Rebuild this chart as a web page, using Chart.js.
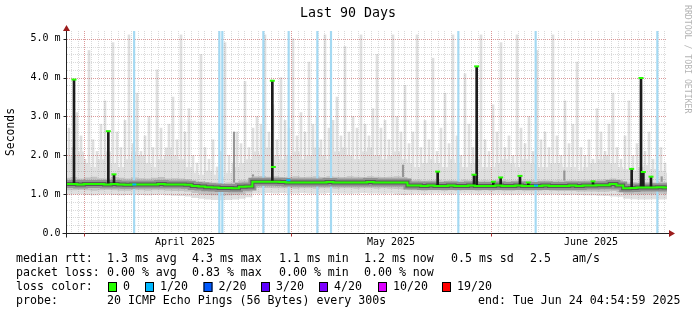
<!DOCTYPE html>
<html><head><meta charset="utf-8">
<script src="https://cdn.jsdelivr.net/npm/chart.js@4.4.0/dist/chart.umd.min.js"></script>
<style>html,body{margin:0;padding:0;background:#fff;}canvas{display:block;}</style>
</head><body>
<canvas id="c" width="697" height="315"></canvas>
<script>
// ---------- data (seconds, in ms units "m") ----------
const xMaxDays = 90;
const yMax = 5.2;
const yTickValues = [0, 1, 2, 3, 4, 5];
const yTickLabels = ['0.0', '1.0 m', '2.0 m', '3.0 m', '4.0 m', '5.0 m'];
const monthLabels = ['April 2025', 'May 2025', 'June 2025'];
const monthLabelDays = [17.7, 48.6, 78.6];
const monthLineDays = [2.6, 33.6, 63.65];

// one value per day
const medianRtt = [1.26,1.26,1.25,1.26,1.26,1.26,1.25,1.26,1.25,1.24,1.25,1.25,1.25,1.25,1.26,1.25,1.25,1.25,1.24,
  1.21,1.20,1.18,1.17,1.16,1.16,1.15,1.19,1.20,
  1.32,1.32,1.32,1.32,1.31,1.30,1.30,1.30,1.30,1.30,1.30,1.31,1.30,1.30,1.30,1.30,1.30,1.31,1.30,1.30,1.30,1.30,1.30,
  1.22,1.22,1.21,1.22,1.21,1.21,1.22,1.21,1.21,1.22,1.21,1.21,1.21,1.22,1.21,1.21,1.22,1.21,1.21,1.21,
  1.22,1.21,1.21,1.21,1.22,1.21,1.22,1.22,1.23,1.23,1.26,1.22,
  1.15,1.16,1.17,1.17,1.17,1.18,1.17];
const smokeLow = [0.98,0.99,1.00,0.98,0.97,0.99,1.00,0.98,0.97,0.98,0.99,0.98,0.97,0.98,0.99,0.97,0.96,0.95,0.94,
  0.90,0.88,0.86,0.85,0.84,0.85,0.86,0.88,0.92,
  1.02,1.02,1.03,1.02,1.03,1.02,1.02,1.03,1.02,1.01,1.02,1.03,1.02,1.02,1.01,1.02,1.03,1.02,1.02,1.01,1.02,0.99,0.98,
  1.00,1.01,1.00,1.01,1.02,1.01,1.00,1.01,1.02,1.01,1.00,1.01,1.00,1.01,1.00,0.99,1.00,1.01,1.00,1.00,
  0.99,1.00,0.99,0.98,0.99,0.98,0.97,0.97,0.96,0.95,0.94,0.93,
  0.88,0.87,0.86,0.86,0.87,0.86,0.87];
const smokeMidLow = [1.10,1.10,1.11,1.10,1.09,1.10,1.11,1.10,1.09,1.09,1.10,1.10,1.09,1.10,1.10,1.09,1.08,1.08,1.07,
  1.03,1.00,0.98,0.97,0.96,0.97,0.98,1.00,1.04,
  1.16,1.16,1.16,1.15,1.15,1.15,1.14,1.15,1.15,1.14,1.15,1.15,1.14,1.15,1.15,1.14,1.15,1.15,1.14,1.15,1.14,1.13,1.12,
  1.10,1.10,1.09,1.10,1.10,1.09,1.10,1.09,1.10,1.10,1.09,1.10,1.09,1.10,1.09,1.09,1.10,1.09,1.09,1.09,
  1.10,1.09,1.08,1.08,1.08,1.07,1.07,1.07,1.06,1.06,1.08,1.05,
  1.00,1.00,0.99,1.00,1.00,1.01,1.00];
const smokeMidHigh = [1.42,1.44,1.40,1.43,1.45,1.41,1.40,1.44,1.42,1.40,1.43,1.41,1.40,1.42,1.44,1.40,1.41,1.40,1.39,
  1.35,1.33,1.31,1.30,1.29,1.30,1.30,1.36,1.36,
  1.46,1.47,1.45,1.46,1.44,1.45,1.46,1.44,1.45,1.46,1.44,1.46,1.45,1.44,1.46,1.45,1.44,1.46,1.45,1.44,1.45,1.46,1.44,
  1.36,1.37,1.35,1.36,1.37,1.35,1.36,1.35,1.37,1.36,1.35,1.36,1.35,1.37,1.36,1.35,1.36,1.35,1.36,1.35,
  1.36,1.35,1.36,1.35,1.36,1.35,1.36,1.36,1.37,1.38,1.40,1.37,
  1.30,1.31,1.30,1.31,1.30,1.32,1.31];
const smokeHigh = [1.9,2.0,2.1,1.8,1.7,1.9,2.1,1.8,1.7,1.9,2.1,2.0,1.8,1.7,1.9,2.2,2.0,1.9,1.7,
  1.55,1.5,1.6,1.5,1.45,1.55,1.7,1.8,1.9,
  2.1,2.0,2.2,2.0,1.9,2.0,2.1,1.9,2.0,2.2,2.0,1.9,2.1,2.2,2.0,1.9,2.1,2.2,2.0,1.9,2.0,2.1,1.9,
  1.8,1.7,1.8,1.9,1.8,1.7,1.9,1.8,1.7,1.8,1.9,1.7,1.7,1.8,1.9,1.8,1.7,1.9,1.8,1.7,
  1.7,1.8,1.8,1.7,1.7,1.6,1.7,1.8,1.9,2.0,1.8,1.7,
  1.65,1.6,1.7,1.75,1.65,1.6,1.55];
// thin smoke streaks, 150 columns over the 90 days
const streakTop = [2.7,2.2,3.1,2.5,1.9,4.7,2.4,2.1,2.8,3.4,2.0,4.9,2.6,2.2,2.9,5.1,2.3,3.6,2.1,2.5,3.0,2.2,4.2,2.7,2.0,2.8,3.5,2.4,5.1,2.6,3.2,
  2.0,1.8,4.6,2.2,1.9,2.4,1.7,2.1,4.9,2.0,1.8,2.6,2.3,3.9,2.2,2.7,
  3.0,2.8,5.1,2.6,3.3,2.4,4.0,2.9,2.7,5.0,2.5,3.1,2.6,4.4,2.8,3.0,2.4,5.1,2.7,2.9,3.5,2.5,4.8,2.6,3.0,2.7,5.1,2.8,2.5,3.2,4.6,2.7,2.9,2.4,5.1,3.0,2.6,3.8,
  2.3,2.6,5.1,2.2,2.9,2.4,4.5,2.1,2.7,3.6,2.3,5.1,2.5,2.0,4.1,2.8,2.2,2.6,5.1,2.4,2.1,3.3,2.6,4.9,2.2,2.5,2.0,5.1,2.7,2.3,3.0,2.1,4.7,2.4,2.6,2.2,5.1,2.5,2.0,3.4,2.3,2.8,4.4,2.2,
  2.0,2.4,1.9,3.2,2.6,2.1,2.8,3.6,2.2,1.9,2.5,3.4,2.0,2.3,3.8,2.1,2.6,1.9,3.0,2.2,1.8];
const streakBase = 1.2;
const darkStreakDays = [25.05, 27.9, 50.4, 74.6, 89.2];
const darkStreakTops = [2.6, 1.5, 1.75, 1.6, 1.45];
const spikeDays = [1.05, 6.2, 7.05, 30.8, 55.6, 61.05, 61.45, 63.95, 65.05, 67.95, 69.2, 78.9, 84.7, 86.1, 86.45, 87.6];
const spikeTops = [3.95, 2.62, 1.51, 3.92, 1.58, 1.50, 4.29, 1.32, 1.43, 1.47, 1.30, 1.33, 1.65, 3.99, 1.57, 1.45];
const extraTipDays = [30.95];
const extraTipVals = [1.70];
const lossTipDays = [10.1, 33.2, 70.35];
const lossTipVals = [1.25, 1.36, 1.22];
const lossDays = [10.07, 22.85, 23.3, 29.45, 33.25, 37.55, 39.6, 58.7, 70.3, 88.55];

const rttLegend = ['median rtt:', '1.3 ms avg', '4.3 ms max', '1.1 ms min', '1.2 ms now', '0.5 ms sd', '2.5', 'am/s'];
const lossLegend = ['packet loss:', '0.00 % avg', '0.83 % max', '0.00 % min', '0.00 % now'];
const lossColorNames = ['0', '1/20', '2/20', '3/20', '4/20', '10/20', '19/20'];
const lossColorValues = ['#26ff00', '#00b8ff', '#0059ff', '#5e00ff', '#7e00ff', '#dd00ff', '#ff0000'];
const probeText = '20 ICMP Echo Pings (56 Bytes) every 300s';
const endText = 'end: Tue Jun 24 04:54:59 2025';
const titleText = 'Last 90 Days';
const yAxisTitle = 'Seconds';
const watermark = 'RRDTOOL / TOBI OETIKER';

// ---------- build ----------
const dayX = i => i * xMaxDays / (medianRtt.length - 1);
const pts = arr => arr.map((v, i) => ({x: dayX(i), y: v}));
const streakX = j => (j + 0.5) * xMaxDays / streakTop.length;
const MONO = '"DejaVu Sans Mono", monospace';
const lineDs = (data, extra) => Object.assign({type: 'line', data, pointRadius: 0, borderWidth: 0,
  borderColor: 'rgba(0,0,0,0)', fill: false, stepped: 'middle'}, extra);

const datasets = [
  lineDs(pts(smokeLow), {}),
  lineDs(pts(smokeHigh), {fill: '-1', backgroundColor: '#e0e0e0'}),
  {type: 'bar', data: streakTop.map((v, j) => ({x: streakX(j), y: [streakBase, v]})),
    backgroundColor: '#dfdfdf', barThickness: 2, grouped: false},
  {type: 'bar', data: darkStreakDays.map((d, k) => ({x: d, y: [streakBase, darkStreakTops[k]]})),
    backgroundColor: '#969696', barThickness: 1.5, grouped: false},
  lineDs(pts(smokeMidLow), {}),
  lineDs(pts(smokeMidHigh), {fill: '-1', backgroundColor: '#c2c2c2'}),
  {type: 'bar', data: lossDays.map(d => ({x: d, y: [0, yMax]})),
    backgroundColor: '#a4d9f2', barThickness: 1.5, grouped: false},
  lineDs(pts(medianRtt), {borderWidth: 8, borderColor: '#929292'}),
  lineDs(pts(medianRtt), {borderWidth: 4, borderColor: '#585858'}),
  {type: 'bar', data: spikeDays.map((d, k) => ({x: d, y: [medianRtt[Math.floor(d)], spikeTops[k]]})),
    backgroundColor: '#1c1c1c', barThickness: 2, grouped: false},
  lineDs(pts(medianRtt), {borderWidth: 2, borderColor: '#26ff00'}),
  {type: 'line', showLine: false, data: spikeDays.map((d, k) => ({x: d, y: spikeTops[k]}))
      .concat(extraTipDays.map((d, k) => ({x: d, y: extraTipVals[k]}))),
    pointStyle: 'line', pointRadius: 2.5, pointBorderWidth: 2, pointBorderColor: '#26ff00', borderColor: '#26ff00'},
  {type: 'line', showLine: false, data: lossTipDays.map((d, k) => ({x: d, y: lossTipVals[k]})),
    pointStyle: 'line', pointRadius: 2, pointBorderWidth: 2, pointBorderColor: '#00b8ff', borderColor: '#00b8ff'}
];
datasets.forEach((d, i) => { d.order = 100 - i; });
const GRID_BEFORE = 6;

function drawGrid(chart) {
  const {ctx, chartArea: a, scales: {x, y}} = chart;
  ctx.save();
  ctx.lineWidth = 1;
  ctx.setLineDash([1, 1]);
  ctx.strokeStyle = 'rgba(140,140,140,0.32)';
  ctx.beginPath();
  for (let k = 1; k * 0.2 < yMax; k++) {
    if (k % 5 === 0) continue;
    const py = Math.round(y.getPixelForValue(k * 0.2)) + 0.5;
    ctx.moveTo(a.left, py); ctx.lineTo(a.right, py);
  }
  for (let d = monthLineDays[0] - 2; d < xMaxDays; d += 1) {
    if (monthLineDays.some(m => Math.abs(m - d) < 0.2)) continue;
    const px = Math.round(x.getPixelForValue(d)) + 0.5;
    ctx.moveTo(px, a.top); ctx.lineTo(px, a.bottom);
  }
  ctx.stroke();
  ctx.strokeStyle = 'rgba(190,70,70,0.55)';
  ctx.beginPath();
  yTickValues.forEach(v => {
    if (v === 0) return;
    const py = Math.round(y.getPixelForValue(v)) + 0.5;
    ctx.moveTo(a.left, py); ctx.lineTo(a.right, py);
  });
  monthLineDays.forEach(d => {
    const px = Math.round(x.getPixelForValue(d)) + 0.5;
    ctx.moveTo(px, a.top); ctx.lineTo(px, a.bottom);
  });
  ctx.stroke();
  ctx.restore();
}

function text(ctx, s, x, y, font, color, align) {
  ctx.font = font; ctx.fillStyle = color; ctx.textAlign = align || 'left'; ctx.textBaseline = 'middle';
  ctx.fillText(s, x, y);
}

function drawFrame(chart) {
  const {ctx, chartArea: a, scales: {x, y}} = chart;
  ctx.save();
  const axisY = Math.round(y.getPixelForValue(0)) + 0.5;
  const axisX = Math.round(a.left) - 0.5;
  ctx.strokeStyle = '#222'; ctx.lineWidth = 1;
  ctx.beginPath();
  ctx.moveTo(axisX, a.top - 1); ctx.lineTo(axisX, axisY + 4);
  ctx.moveTo(axisX - 4, axisY); ctx.lineTo(a.right + 2, axisY);
  yTickValues.forEach(v => {
    const py = Math.round(y.getPixelForValue(v)) + 0.5;
    ctx.moveTo(axisX - 3, py); ctx.lineTo(axisX, py);
  });
  ctx.stroke();
  ctx.strokeStyle = '#b03030';
  ctx.beginPath();
  monthLineDays.forEach(d => {
    const px = Math.round(x.getPixelForValue(d)) + 0.5;
    ctx.moveTo(px, axisY); ctx.lineTo(px, axisY + 3);
  });
  ctx.stroke();
  ctx.fillStyle = '#9c1c1c';
  ctx.beginPath();
  ctx.moveTo(axisX, a.top - 6); ctx.lineTo(axisX - 3.5, a.top); ctx.lineTo(axisX + 3.5, a.top); ctx.closePath();
  ctx.fill();
  ctx.beginPath();
  ctx.moveTo(a.right + 8, axisY); ctx.lineTo(a.right + 2, axisY - 3.5); ctx.lineTo(a.right + 2, axisY + 3.5); ctx.closePath();
  ctx.fill();
  yTickValues.forEach((v, i) => text(ctx, yTickLabels[i], axisX - 6, y.getPixelForValue(v), '10px ' + MONO, '#000', 'right'));
  monthLabelDays.forEach((d, i) => text(ctx, monthLabels[i], x.getPixelForValue(d), 242, '10px ' + MONO, '#000', 'center'));
  text(ctx, titleText, 348, 14, '13.3px ' + MONO, '#000', 'center');
  ctx.save(); ctx.translate(11, 132); ctx.rotate(-Math.PI / 2);
  text(ctx, yAxisTitle, 0, 0, '11.4px ' + MONO, '#000', 'center'); ctx.restore();
  ctx.save(); ctx.translate(687, 5); ctx.rotate(Math.PI / 2);
  text(ctx, watermark, 0, 0, '8.2px ' + MONO, '#b4b4b4', 'left'); ctx.restore();
  const LF = '11.6px ' + MONO;
  const rttPos = [16, 107, 192, 279, 364, 451, 530, 572];
  rttLegend.forEach((s, i) => text(ctx, s, rttPos[i], 259, LF, '#000'));
  lossLegend.forEach((s, i) => text(ctx, s, rttPos[i], 273, LF, '#000'));
  text(ctx, 'loss color:', 16, 287, LF, '#000');
  const sqPos = [108, 145, 203.5, 261, 319, 378, 442];
  lossColorNames.forEach((s, i) => {
    ctx.fillStyle = lossColorValues[i];
    ctx.fillRect(sqPos[i], 282, 9, 10);
    ctx.strokeStyle = '#000'; ctx.lineWidth = 1;
    ctx.strokeRect(sqPos[i] + 0.5, 282.5, 8, 9);
    text(ctx, s, sqPos[i] + 15, 287, LF, '#000');
  });
  text(ctx, 'probe:', 16, 301, LF, '#000');
  text(ctx, probeText, 107, 301, LF, '#000');
  text(ctx, endText, 478, 301, LF, '#000');
  ctx.restore();
}

const framePlugin = {
  id: 'frame',
  beforeDraw(chart) { const c = chart.ctx; c.save(); c.fillStyle = '#fff'; c.fillRect(0, 0, chart.width, chart.height); c.restore(); },
  beforeDatasetDraw(chart, args) { if (args.index === GRID_BEFORE) drawGrid(chart); },
  afterDraw(chart) { drawFrame(chart); }
};

new Chart(document.getElementById('c'), {
  type: 'line',
  data: {datasets},
  options: {
    responsive: false, animation: false, devicePixelRatio: 1, events: [],
    layout: {padding: {left: 67, right: 30, top: 31, bottom: 82}},
    scales: {
      x: {type: 'linear', min: 0, max: xMaxDays, display: false, offset: false},
      y: {type: 'linear', min: 0, max: yMax, display: false}
    },
    plugins: {legend: {display: false}, tooltip: {enabled: false}}
  },
  plugins: [framePlugin]
});
</script>
</body></html>
